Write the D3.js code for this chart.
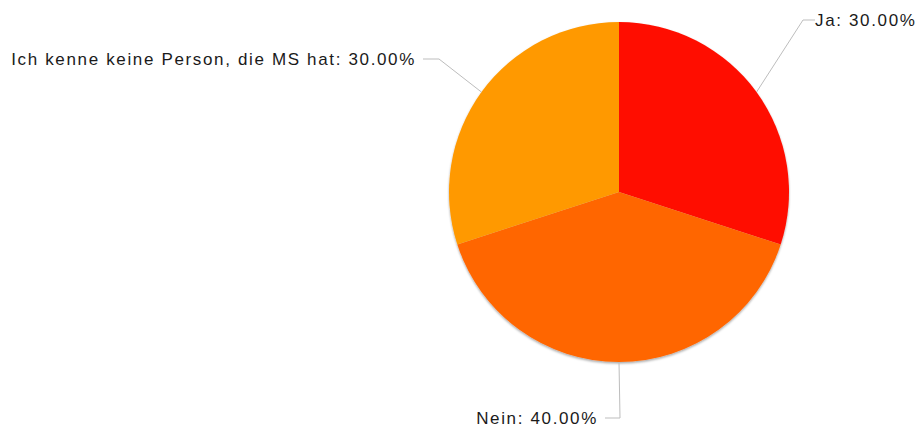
<!DOCTYPE html>
<html>
<head>
<meta charset="utf-8">
<script src="https://cdn.jsdelivr.net/npm/d3@7"></script>
<style>
  html, body { margin: 0; padding: 0; background: #fff; }
  svg { display: block; }
  text { font-family: "Liberation Sans", Arial, sans-serif; font-size: 17px; letter-spacing: 1.65px; fill: #1a1a1a; }
</style>
</head>
<body>
<svg id="chart" width="923" height="428"></svg>
<script>
const categories = ["Ja", "Nein", "Ich kenne keine Person, die MS hat"];
const values = [30, 40, 30];
const colors = ["#ff1100", "#ff6600", "#ff9900"];

const W = 923, H = 428;
const cx = 619, cy = 192, r = 170;

// label layout: elbow point and text anchor side (layout only)
const labelLayout = [
  { elbow: [803, 20], end: [815, 20], anchor: "start" },
  { elbow: [620, 418], end: [605, 418], anchor: "end" },
  { elbow: [439, 59], end: [423, 59], anchor: "end" }
];

const svg = d3.select("#chart");
const defs = svg.append("defs");
const f = defs.append("filter").attr("id", "shadow")
  .attr("x", "-10%").attr("y", "-10%").attr("width", "120%").attr("height", "120%");
f.append("feDropShadow").attr("dx", 0).attr("dy", 1.5).attr("stdDeviation", 1)
  .attr("flood-color", "#000").attr("flood-opacity", 0.35);

const total = d3.sum(values);
const data = categories.map((c, i) => ({ name: c, value: values[i], color: colors[i], layout: labelLayout[i] }));

const pie = d3.pie().value(d => d.value).sort(null);
const arcs = pie(data);
const arc = d3.arc().innerRadius(0).outerRadius(r);

const g = svg.append("g").attr("transform", `translate(${cx},${cy})`);
g.append("g").attr("filter", "url(#shadow)")
  .selectAll("path").data(arcs).join("path")
  .attr("d", arc)
  .attr("fill", d => d.data.color);

// leader lines + labels
const lbl = svg.append("g");
arcs.forEach(a => {
  const mid = (a.startAngle + a.endAngle) / 2;
  const px = cx + Math.sin(mid) * r;
  const py = cy - Math.cos(mid) * r;
  const L = a.data.layout;
  lbl.append("polyline")
    .attr("points", `${px},${py} ${L.elbow[0]},${L.elbow[1]} ${L.end[0]},${L.end[1]}`)
    .attr("fill", "none").attr("stroke", "#bdbdbd").attr("stroke-width", 1);
  const pct = (a.data.value / total * 100).toFixed(2) + "%";
  lbl.append("text")
    .attr("x", L.anchor === "start" ? L.end[0] + 0 : L.end[0] - 7)
    .attr("y", L.end[1])
    .attr("dy", "0.36em")
    .attr("text-anchor", L.anchor)
    .text(`${a.data.name}: ${pct}`);
});
</script>
</body>
</html>
